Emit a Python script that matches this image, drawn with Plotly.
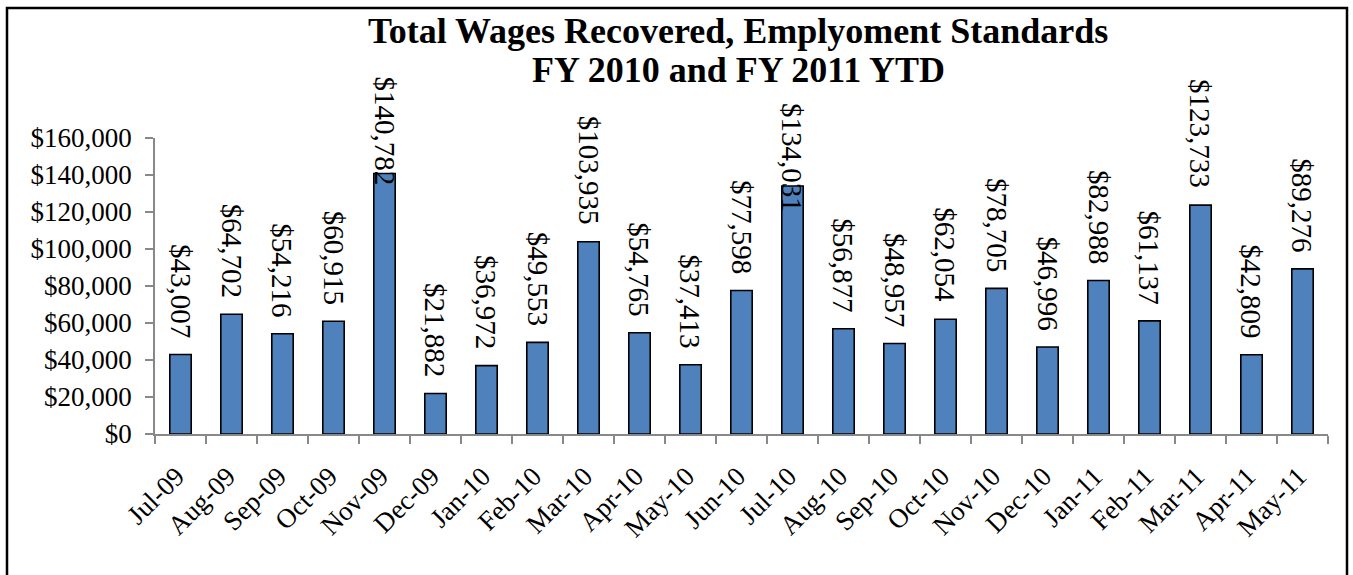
import plotly.graph_objects as go

months = ["Jul-09", "Aug-09", "Sep-09", "Oct-09", "Nov-09", "Dec-09", "Jan-10", "Feb-10",
          "Mar-10", "Apr-10", "May-10", "Jun-10", "Jul-10", "Aug-10", "Sep-10", "Oct-10",
          "Nov-10", "Dec-10", "Jan-11", "Feb-11", "Mar-11", "Apr-11", "May-11"]
wages = [43007, 64702, 54216, 60915, 140782, 21882, 36972, 49553,
         103935, 54765, 37413, 77598, 134031, 56877, 48957, 62054,
         78705, 46996, 82988, 61137, 123733, 42809, 89276]
y_ticks = [0, 20000, 40000, 60000, 80000, 100000, 120000, 140000, 160000]
y_tick_labels = ["$" + f"{v:,}" for v in y_ticks]
title_lines = ["Total Wages Recovered, Emplyoment Standards", "FY 2010 and FY 2011 YTD"]

# style: label pixel shift above bar top (Excel pushed two labels down into the bars)
LABEL_GAP = 15
LABEL_SHIFT = {"Nov-09": -14, "Jul-10": -28}

FONT = "Liberation Serif"
W, H = 1353, 575
ML, MR, MT, MB = 155, 25, 138, 141
PW, PH = W - ML - MR, H - MT - MB


def px_to_paper_y(p):
    return (H - MB - p) / PH


def px_to_paper_x(p):
    return (p - ML) / PW


fig = go.Figure()
fig.add_trace(go.Bar(
    x=months, y=wages,
    marker=dict(color="#4F81BD", line=dict(color="black", width=1.6)),
    width=0.42,
    hoverinfo="x+y",
))

annotations = []
for m, v in zip(months, wages):
    annotations.append(dict(
        x=m, y=v, xref="x", yref="y",
        text="$" + f"{v:,}",
        textangle=90, showarrow=False,
        yanchor="bottom", xanchor="center",
        yshift=LABEL_SHIFT.get(m, LABEL_GAP),
        font=dict(family=FONT, size=29, color="black"),
    ))

for line, cy in zip(title_lines, [30.5, 69.5]):
    annotations.append(dict(
        x=px_to_paper_x(738), y=px_to_paper_y(cy), xref="paper", yref="paper",
        text="<b>" + line + "</b>", showarrow=False,
        xanchor="center", yanchor="middle",
        font=dict(family=FONT, size=36, color="black"),
    ))

fig.update_layout(
    width=W, height=H,
    margin=dict(l=ML, r=MR, t=MT, b=MB, autoexpand=False),
    paper_bgcolor="white", plot_bgcolor="white",
    showlegend=False,
    annotations=annotations,
    xaxis=dict(
        type="category",
        tickangle=-45,
        tickson="boundaries",
        ticks="outside", ticklen=8, tickcolor="#888888", tickwidth=1.5,
        showline=True, linecolor="#888888", linewidth=1.5,
        showgrid=False,
        tickfont=dict(family=FONT, size=27, color="black"),
        ticklabelstandoff=14,
        ticklabelshift=-4,
    ),
    yaxis=dict(
        range=[0, 160000],
        tickvals=y_ticks, ticktext=y_tick_labels,
        ticks="outside", ticklen=8, tickcolor="#888888", tickwidth=1.5,
        showline=True, linecolor="#888888", linewidth=1.5,
        showgrid=False, zeroline=False,
        tickfont=dict(family=FONT, size=27, color="black"),
        ticklabelstandoff=8,
    ),
    shapes=[dict(
        type="rect", xref="paper", yref="paper",
        x0=px_to_paper_x(7), x1=px_to_paper_x(1347),
        y0=px_to_paper_y(590), y1=px_to_paper_y(8),
        line=dict(color="black", width=2.5), fillcolor="rgba(0,0,0,0)",
        layer="below",
    )],
)

fig.write_html("out.html", config={"displayModeBar": False},
               post_script="document.body.style.margin='0';document.body.style.overflow='hidden';")
